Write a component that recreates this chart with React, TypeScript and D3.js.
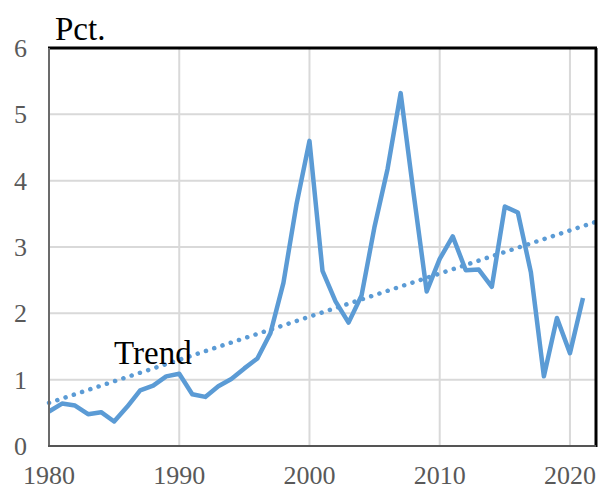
import React from "react";
import * as d3 from "d3";

const years = [1980,1981,1982,1983,1984,1985,1986,1987,1988,1989,1990,1991,1992,1993,1994,1995,1996,1997,1998,1999,2000,2001,2002,2003,2004,2005,2006,2007,2008,2009,2010,2011,2012,2013,2014,2015,2016,2017,2018,2019,2020,2021];
const values = [0.52,0.64,0.61,0.48,0.51,0.37,0.59,0.84,0.91,1.05,1.09,0.78,0.74,0.90,1.01,1.17,1.32,1.70,2.46,3.64,4.60,2.64,2.18,1.86,2.27,3.31,4.18,5.32,3.80,2.33,2.82,3.16,2.65,2.66,2.40,3.61,3.52,2.62,1.05,1.93,1.40,2.23];
const trendYears = [1980, 2022];
const trendValues = [0.65, 3.38];
const xTicks = [1980, 1990, 2000, 2010, 2020];
const yTicks = [0, 1, 2, 3, 4, 5, 6];

export default function App() {
  const left = 49, right = 596, top = 48, bottom = 446;
  const x = d3.scaleLinear().domain([1980, 2022]).range([left, right]);
  const y = d3.scaleLinear().domain([0, 6]).range([bottom, top]);
  const line = d3.line<number>().x((_, i) => x(years[i])).y((d) => y(d));
  const tline = d3.line<number>().x((_, i) => x(trendYears[i])).y((d) => y(d));
  const font = "'Liberation Serif', 'Times New Roman', serif";
  return (
    <svg width={600} height={490} style={{ position: "absolute", left: 0, top: 0, background: "#fff" }}>
      <rect x={0} y={0} width={600} height={490} fill="#fff" />
      {yTicks.map((t) => (
        <line key={"gy" + t} x1={left} x2={right} y1={y(t)} y2={y(t)} stroke="#d9d9d9" strokeWidth={2} />
      ))}
      {xTicks.map((t) => (
        <line key={"gx" + t} x1={x(t)} x2={x(t)} y1={top} y2={bottom} stroke="#d9d9d9" strokeWidth={2} />
      ))}
      <path d={tline(trendValues) || ""} fill="none" stroke="#5b9bd5" strokeWidth={4.5} strokeDasharray="0.1 8.6" strokeLinecap="round" />
      <path d={line(values) || ""} fill="none" stroke="#5b9bd5" strokeWidth={4.5} strokeLinejoin="round" />
      <line x1={left - 1} x2={right + 1} y1={top} y2={top} stroke="#000" strokeWidth={3} />
      <line x1={right} x2={right} y1={top} y2={bottom + 1} stroke="#000" strokeWidth={3} />
      <line x1={left} x2={left} y1={top} y2={bottom + 1} stroke="#6b6b6b" strokeWidth={2} />
      <line x1={left - 1} x2={right} y1={bottom} y2={bottom} stroke="#555" strokeWidth={2} />
      {yTicks.map((t) => (
        <text key={"ty" + t} x={27} y={y(t)} dy="0.35em" textAnchor="end" fontFamily={font} fontSize={26} fill="#595959">{t}</text>
      ))}
      {xTicks.map((t) => (
        <text key={"tx" + t} x={x(t)} y={484} textAnchor="middle" fontFamily={font} fontSize={26} fill="#595959">{t}</text>
      ))}
      <text x={55} y={40} fontFamily={font} fontSize={33} fill="#000">Pct.</text>
      <text x={114} y={364} fontFamily={font} fontSize={33} fill="#000">Trend</text>
    </svg>
  );
}
